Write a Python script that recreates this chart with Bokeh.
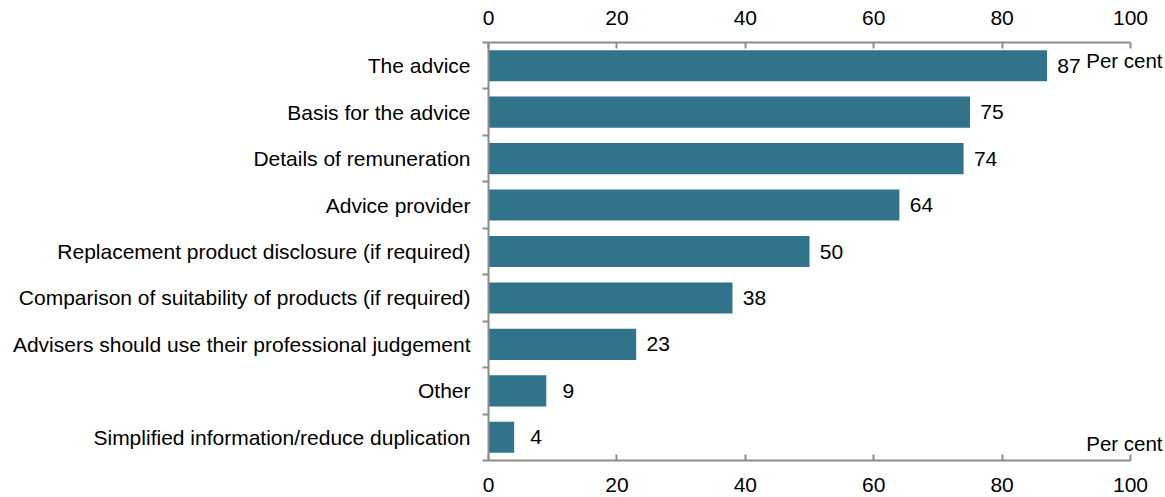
from bokeh.plotting import figure
from bokeh.models import LinearAxis, FixedTicker, Range1d, ColumnDataSource, Label
from bokeh.core.properties import value
from bokeh.embed import file_html
from bokeh.resources import INLINE

categories = [
    "The advice",
    "Basis for the advice",
    "Details of remuneration",
    "Advice provider",
    "Replacement product disclosure (if required)",
    "Comparison of suitability of products (if required)",
    "Advisers should use their professional judgement",
    "Other",
    "Simplified information/reduce duplication",
]
values = [87, 75, 74, 64, 50, 38, 23, 9, 4]
x_ticks = [0, 20, 40, 60, 80, 100]
unit_label = "Per cent"

BAR = "#30738A"
GREY = "#8C8C8C"
FONT = "Liberation Sans"
FS = "21px"

n = len(categories)
ypos = [n - 1 - i for i in range(n)]
src = ColumnDataSource(dict(y=ypos, v=values, lab=[str(v) for v in values]))

p = figure(width=1165, height=497, x_range=Range1d(0, 105.45), y_range=Range1d(-0.5, n - 0.5),
           x_axis_type=None, y_axis_type=None, output_backend="svg", toolbar_location=None,
           min_border_left=488, min_border_right=0, min_border_top=42, min_border_bottom=37)
p.outline_line_color = None
p.background_fill_color = "white"

p.hbar(y="y", left=0, right="v", height=0.67, source=src, fill_color=BAR, line_color=None)
p.text(x="v", y="y", text="lab", source=src, x_offset=22, text_align="center",
       text_baseline="middle", text_font=value(FONT), text_font_size=FS, text_color="black")


def x_axis():
    ax = LinearAxis(ticker=FixedTicker(ticks=x_ticks), bounds=(0, 100))
    ax.axis_line_color = GREY
    ax.axis_line_width = 2
    ax.major_tick_line_color = GREY
    ax.major_tick_line_width = 2
    ax.major_tick_in = 6
    ax.major_tick_out = 0
    ax.minor_tick_line_color = None
    ax.major_label_text_font = FONT
    ax.major_label_text_font_size = FS
    ax.major_label_text_color = "black"
    return ax


top = x_axis()
top.major_label_standoff = 18
p.add_layout(top, "above")
bot = x_axis()
bot.major_label_standoff = 17
p.add_layout(bot, "below")

left = LinearAxis(ticker=FixedTicker(ticks=ypos, minor_ticks=[k - 0.5 for k in range(n + 1)]),
                  major_label_overrides={y: c for y, c in zip(ypos, categories)})
left.axis_line_color = GREY
left.axis_line_width = 2
left.major_tick_line_color = None
left.major_tick_in = 0
left.major_tick_out = 0
left.minor_tick_line_color = GREY
left.minor_tick_line_width = 2
left.minor_tick_in = 0
left.minor_tick_out = 6
left.major_label_standoff = 12
left.major_label_text_font = FONT
left.major_label_text_font_size = FS
left.major_label_text_color = "black"
p.add_layout(left, "left")

p.add_layout(Label(x=93.1, y=n - 1 + 0.12, text=unit_label, text_baseline="middle",
                   text_font=FONT, text_font_size="20.5px", text_color="black"))
p.add_layout(Label(x=93.1, y=-0.5 + 0.37, text=unit_label, text_baseline="middle",
                   text_font=FONT, text_font_size="20.5px", text_color="black"))

open("out.html", "w").write(file_html(p, INLINE))
